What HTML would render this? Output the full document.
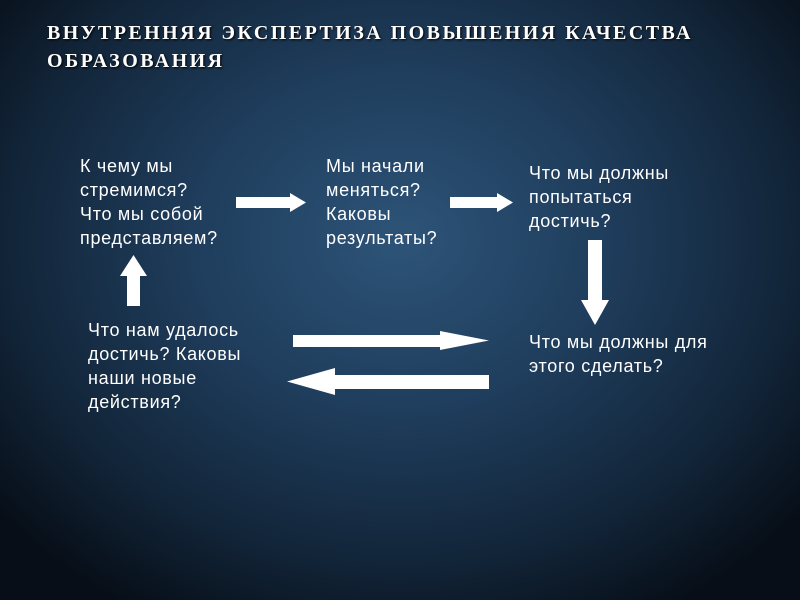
<!DOCTYPE html>
<html><head><meta charset="utf-8"><style>
html,body{margin:0;padding:0}
body{width:800px;height:600px;overflow:hidden;position:relative;
background:radial-gradient(ellipse 520px 430px at 400px 240px,#2d5478 0%,#1f3d5c 40%,#122539 75%,#070e17 100%);
font-family:"Liberation Sans",sans-serif;color:#fff}
.t{position:absolute;left:47px;top:19px;font-family:"Liberation Serif",serif;font-weight:bold;font-size:20px;letter-spacing:2.45px;line-height:28px;text-shadow:1px 1px 2px #000;white-space:nowrap}
.x{position:absolute;font-size:18px;letter-spacing:0.7px;line-height:24px;white-space:nowrap}
svg{position:absolute;left:0;top:0}
</style></head><body>
<div class="t">ВНУТРЕННЯЯ ЭКСПЕРТИЗА ПОВЫШЕНИЯ КАЧЕСТВА<br>ОБРАЗОВАНИЯ</div>
<div class="x" style="left:80px;top:154px">К чему мы<br>стремимся?<br>Что мы собой<br>представляем?</div>
<div class="x" style="left:326px;top:154px">Мы начали<br>меняться?<br>Каковы<br>результаты?</div>
<div class="x" style="left:529px;top:161px">Что мы должны<br>попытаться<br>достичь?</div>
<div class="x" style="left:88px;top:318px">Что нам удалось<br>достичь? Каковы<br>наши новые<br>действия?</div>
<div class="x" style="left:529px;top:330px">Что мы должны для<br>этого сделать?</div>
<svg width="800" height="600">
<g fill="#fff">
<polygon points="236,197 290,197 290,193 306,202.5 290,212 290,208 236,208"/>
<polygon points="450,197 497,197 497,193 513,202.5 497,212 497,208 450,208"/>
<polygon points="293,335 440,335 440,331 489,340.5 440,350 440,347 293,347"/>
<polygon points="489,375 335,375 335,368 287,381.5 335,395 335,389 489,389"/>
<polygon points="127,306 127,276 120,276 133.5,255 147,276 140,276 140,306"/>
<polygon points="588,240 602,240 602,300 609,300 595,325 581,300 588,300"/>
</g></svg>
</body></html>
